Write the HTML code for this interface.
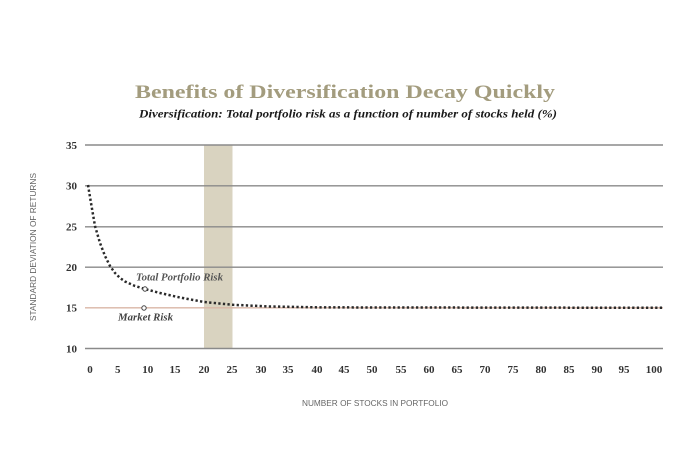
<!DOCTYPE html>
<html><head><meta charset="utf-8"><style>
html,body{margin:0;padding:0;background:#fff;}
svg{display:block;}
</style></head><body>
<svg width="696" height="458" viewBox="0 0 696 458" xmlns="http://www.w3.org/2000/svg">
<rect width="696" height="458" fill="#fff"/>
<text x="135" y="98" font-family="Liberation Serif, serif" font-weight="bold" font-size="19" fill="#a39c7e" textLength="420" lengthAdjust="spacingAndGlyphs">Benefits of Diversification Decay Quickly</text>
<text x="139" y="117.5" font-family="Liberation Serif, serif" font-weight="bold" font-style="italic" font-size="12" fill="#1a1a1a" textLength="418" lengthAdjust="spacingAndGlyphs">Diversification: Total portfolio risk as a function of number of stocks held (%)</text>
<!-- band -->
<rect x="204" y="145" width="28.5" height="203.5" fill="#d9d3c0"/>
<!-- gridlines -->
<g stroke="#8a8a8a" stroke-width="1.4">
<line x1="85" y1="145" x2="663" y2="145"/>
<line x1="85" y1="185.8" x2="663" y2="185.8"/>
<line x1="85" y1="226.8" x2="663" y2="226.8"/>
<line x1="85" y1="267.2" x2="663" y2="267.2"/>
<line x1="85" y1="348.5" x2="663" y2="348.5"/>
</g>
<line x1="85" y1="307.8" x2="663" y2="307.8" stroke="#d9b6a6" stroke-width="1.3"/>
<!-- y labels -->
<g font-family="Liberation Serif, serif" font-weight="bold" font-size="11" fill="#333" text-anchor="end">
<text x="77" y="149">35</text>
<text x="77" y="189.5">30</text>
<text x="77" y="230.5">25</text>
<text x="77" y="271">20</text>
<text x="77" y="311.5">15</text>
<text x="77" y="352.5">10</text>
</g>
<!-- x labels -->
<g font-family="Liberation Serif, serif" font-weight="bold" font-size="11" fill="#333" text-anchor="middle">
<text x="90" y="373">0</text><text x="117.7" y="373">5</text><text x="147.7" y="373">10</text><text x="175" y="373">15</text>
<text x="204" y="373">20</text><text x="232" y="373">25</text><text x="261" y="373">30</text><text x="288" y="373">35</text>
<text x="317" y="373">40</text><text x="344" y="373">45</text><text x="372" y="373">50</text><text x="401" y="373">55</text>
<text x="429" y="373">60</text><text x="457" y="373">65</text><text x="485" y="373">70</text><text x="513" y="373">75</text>
<text x="541" y="373">80</text><text x="569" y="373">85</text><text x="597" y="373">90</text><text x="624" y="373">95</text>
<text x="654" y="373">100</text>
</g>
<!-- axis titles -->
<text x="302" y="406" font-family="Liberation Sans, sans-serif" font-size="8" fill="#666" textLength="146" lengthAdjust="spacingAndGlyphs">NUMBER OF STOCKS IN PORTFOLIO</text>
<text transform="translate(36,321) rotate(-90)" x="0" y="0" font-family="Liberation Sans, sans-serif" font-size="8" fill="#666" textLength="148" lengthAdjust="spacingAndGlyphs">STANDARD DEVIATION OF RETURNS</text>
<!-- curve -->
<polyline fill="none" stroke="#2a2a2a" stroke-width="2.5" stroke-dasharray="2.3 2.3" points="88,185 91,203 95,226 100,243 105,256 110,266 115,273 120,278 125,281.5 135,286 145,289 160,293 180,297.5 204,302 233,304.8 270,306.5 320,307.4 663,307.8"/>
<!-- markers -->
<circle cx="145" cy="289" r="2.2" fill="#fff" stroke="#444" stroke-width="1"/>
<circle cx="144" cy="308" r="2.2" fill="#fff" stroke="#444" stroke-width="1"/>
<text x="136" y="280.5" font-family="Liberation Serif, serif" font-weight="bold" font-style="italic" font-size="10" fill="#555" textLength="87" lengthAdjust="spacingAndGlyphs">Total Portfolio Risk</text>
<text x="118" y="320.5" font-family="Liberation Serif, serif" font-weight="bold" font-style="italic" font-size="10" fill="#444" textLength="55" lengthAdjust="spacingAndGlyphs">Market Risk</text>
</svg>
</body></html>
